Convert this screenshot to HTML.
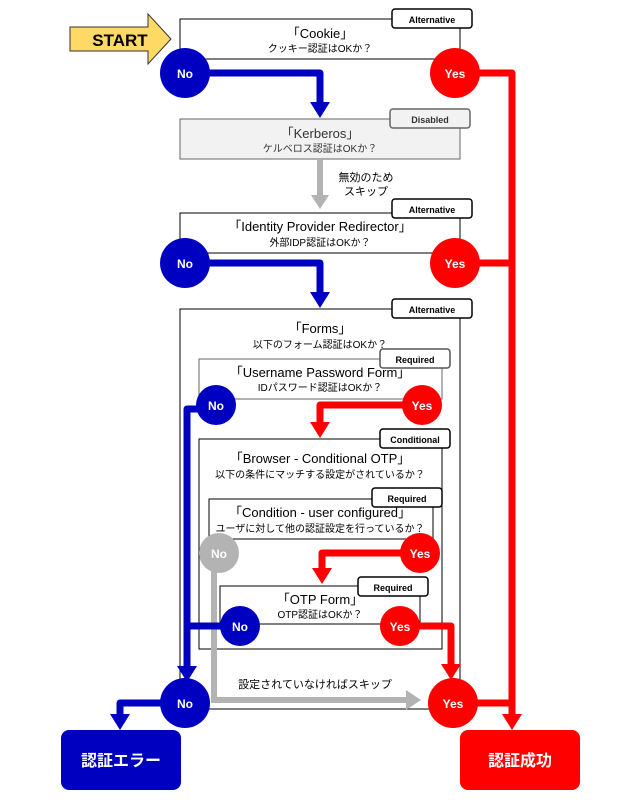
<!DOCTYPE html>
<html><head><meta charset="utf-8"><style>
html,body{margin:0;padding:0;background:#fff;}
svg{display:block;font-family:"Liberation Sans","Noto Sans CJK JP",sans-serif;}
</style></head><body>
<svg width="634" height="800" viewBox="0 0 634 800" xmlns="http://www.w3.org/2000/svg">
<defs>
<marker id="ab" viewBox="0 0 10 10" refX="5" refY="10" markerWidth="3" markerHeight="3" orient="auto-start-reverse"></marker>
</defs>
<!-- START -->
<polygon points="70,27 148,27 148,14 171,39 148,64 148,51 70,51" fill="#ffd966" stroke="#333" stroke-width="1"/>
<text x="120" y="46" font-size="17" font-weight="bold" text-anchor="middle" fill="#000">START</text>

<!-- boxes -->
<rect x="180" y="19" width="280" height="40" fill="#fff" stroke="#000"/>
<text x="320" y="38" font-size="13" text-anchor="middle">「Cookie」</text>
<text x="320" y="52" font-size="10" text-anchor="middle">クッキー認証はOKか？</text>
<rect x="392" y="9" width="80" height="19" rx="3" fill="#fff" stroke="#000" stroke-width="1.5"/>
<text x="432" y="23" font-size="9" font-weight="bold" text-anchor="middle">Alternative</text>

<rect x="180" y="119" width="280" height="40" fill="#f2f2f2" stroke="#666"/>
<text x="320" y="138" font-size="13" text-anchor="middle" fill="#333">「Kerberos」</text>
<text x="320" y="152" font-size="10" text-anchor="middle" fill="#333">ケルベロス認証はOKか？</text>
<rect x="390" y="109" width="80" height="19" rx="3" fill="#f2f2f2" stroke="#666" stroke-width="1.5"/>
<text x="430" y="123" font-size="9" font-weight="bold" text-anchor="middle" fill="#333">Disabled</text>

<rect x="180" y="213" width="280" height="40" fill="#fff" stroke="#000"/>
<text x="320" y="231" font-size="13" text-anchor="middle">「Identity Provider Redirector」</text>
<text x="320" y="246" font-size="10" text-anchor="middle">外部IDP認証はOKか？</text>
<rect x="392" y="199" width="80" height="19" rx="3" fill="#fff" stroke="#000" stroke-width="1.5"/>
<text x="432" y="213" font-size="9" font-weight="bold" text-anchor="middle">Alternative</text>

<rect x="180" y="309" width="280" height="400" fill="#fff" stroke="#000"/>
<text x="320" y="333" font-size="13" text-anchor="middle">「Forms」</text>
<text x="320" y="348" font-size="10" text-anchor="middle">以下のフォーム認証はOKか？</text>
<rect x="392" y="299" width="80" height="19" rx="3" fill="#fff" stroke="#000" stroke-width="1.5"/>
<text x="432" y="313" font-size="9" font-weight="bold" text-anchor="middle">Alternative</text>

<rect x="199" y="359" width="243" height="40" fill="#fff" stroke="#666"/>
<text x="320" y="377" font-size="13" text-anchor="middle">「Username Password Form」</text>
<text x="320" y="391" font-size="10" text-anchor="middle">IDパスワード認証はOKか？</text>
<rect x="380" y="349" width="70" height="19" rx="3" fill="#fff" stroke="#555" stroke-width="1.5"/>
<text x="415" y="363" font-size="9" font-weight="bold" text-anchor="middle">Required</text>

<rect x="199" y="439" width="243" height="210" fill="#fff" stroke="#000"/>
<text x="320" y="463" font-size="13" text-anchor="middle">「Browser - Conditional OTP」</text>
<text x="320" y="478" font-size="10" text-anchor="middle">以下の条件にマッチする設定がされているか？</text>
<rect x="380" y="429" width="70" height="19" rx="3" fill="#fff" stroke="#000" stroke-width="1.5"/>
<text x="415" y="443" font-size="9" font-weight="bold" text-anchor="middle">Conditional</text>

<rect x="209" y="499" width="224" height="40" fill="#fff" stroke="#000"/>
<text x="320" y="517" font-size="13" text-anchor="middle">「Condition - user configured」</text>
<text x="320" y="532" font-size="10" text-anchor="middle">ユーザに対して他の認証設定を行っているか？</text>
<rect x="372" y="488" width="70" height="19" rx="3" fill="#fff" stroke="#000" stroke-width="1.5"/>
<text x="407" y="502" font-size="9" font-weight="bold" text-anchor="middle">Required</text>

<rect x="220" y="586" width="200" height="38" fill="#fff" stroke="#000"/>
<text x="320" y="604" font-size="13" text-anchor="middle">「OTP Form」</text>
<text x="320" y="618" font-size="10" text-anchor="middle">OTP認証はOKか？</text>
<rect x="358" y="577" width="70" height="19" rx="3" fill="#fff" stroke="#000" stroke-width="1.5"/>
<text x="393" y="591" font-size="9" font-weight="bold" text-anchor="middle">Required</text>

<!-- gray arrows -->
<line x1="320" y1="160" x2="320" y2="196" stroke="#b3b3b3" stroke-width="6"/>
<polygon points="311,195 329,195 320,209" fill="#b3b3b3"/>
<text x="366" y="181" font-size="11" text-anchor="middle">無効のため</text>
<text x="366" y="195" font-size="11" text-anchor="middle">スキップ</text>

<polyline points="214,560 214,700 408,700" fill="none" stroke="#b3b3b3" stroke-width="6"/>
<polygon points="406,690 406,710 421,700" fill="#b3b3b3"/>
<text x="315" y="688" font-size="11" text-anchor="middle">設定されていなければスキップ</text>

<!-- blue lines -->
<g fill="none" stroke="#0000c0" stroke-width="7" stroke-linejoin="round">
<polyline points="205,73 320,73 320,104"/>
<polyline points="205,263 320,263 320,294"/>
<polyline points="200,409 187,409 187,668"/>
<polyline points="225,626 187,626"/>
<polyline points="165,703 120,703 120,716"/>
</g>
<g fill="#0000c0">
<polygon points="310,102 330,102 320,118"/>
<polygon points="310,292 330,292 320,308"/>
<polygon points="177,666 197,666 187,682"/>
<polygon points="110,714 130,714 120,730"/>
</g>

<!-- red lines -->
<g fill="none" stroke="#ff0000" stroke-width="7" stroke-linejoin="round">
<polyline points="475,73 512,73 512,716"/>
<polyline points="475,263 512,263"/>
<polyline points="410,405 320,405 320,424"/>
<polyline points="410,553 322,553 322,570"/>
<polyline points="410,626 451,626 451,666"/>
<polyline points="470,703 512,703"/>
</g>
<g fill="#ff0000">
<polygon points="310,422 330,422 320,438"/>
<polygon points="312,568 332,568 322,584"/>
<polygon points="441,664 461,664 451,680"/>
<polygon points="502,714 522,714 512,730"/>
</g>

<!-- circles -->
<g font-size="12" font-weight="bold" text-anchor="middle" fill="#fff">
<circle cx="185" cy="73" r="25" fill="#0000c0"/><text x="185" y="78">No</text>
<circle cx="455" cy="73" r="25" fill="#ff0000"/><text x="455" y="78">Yes</text>
<circle cx="185" cy="263" r="25" fill="#0000c0"/><text x="185" y="268">No</text>
<circle cx="455" cy="263" r="25" fill="#ff0000"/><text x="455" y="268">Yes</text>
<circle cx="216" cy="405" r="20" fill="#0000c0"/><text x="216" y="410">No</text>
<circle cx="422" cy="405" r="20" fill="#ff0000"/><text x="422" y="410">Yes</text>
<circle cx="219" cy="553" r="20" fill="#b3b3b3"/><text x="219" y="558">No</text>
<circle cx="420" cy="553" r="20" fill="#ff0000"/><text x="420" y="558">Yes</text>
<circle cx="240" cy="626" r="20" fill="#0000c0"/><text x="240" y="631">No</text>
<circle cx="400" cy="626" r="20" fill="#ff0000"/><text x="400" y="631">Yes</text>
<circle cx="185" cy="703" r="25" fill="#0000c0"/><text x="185" y="708">No</text>
<circle cx="453" cy="703" r="25" fill="#ff0000"/><text x="453" y="708">Yes</text>
</g>

<!-- end boxes -->
<rect x="61" y="730" width="120" height="60" rx="8" fill="#0000c0"/>
<text x="121" y="766" font-size="16" font-weight="bold" text-anchor="middle" fill="#fff">認証エラー</text>
<rect x="460" y="730" width="120" height="60" rx="8" fill="#ff0000"/>
<text x="520" y="766" font-size="16" font-weight="bold" text-anchor="middle" fill="#fff">認証成功</text>
</svg>
</body></html>
